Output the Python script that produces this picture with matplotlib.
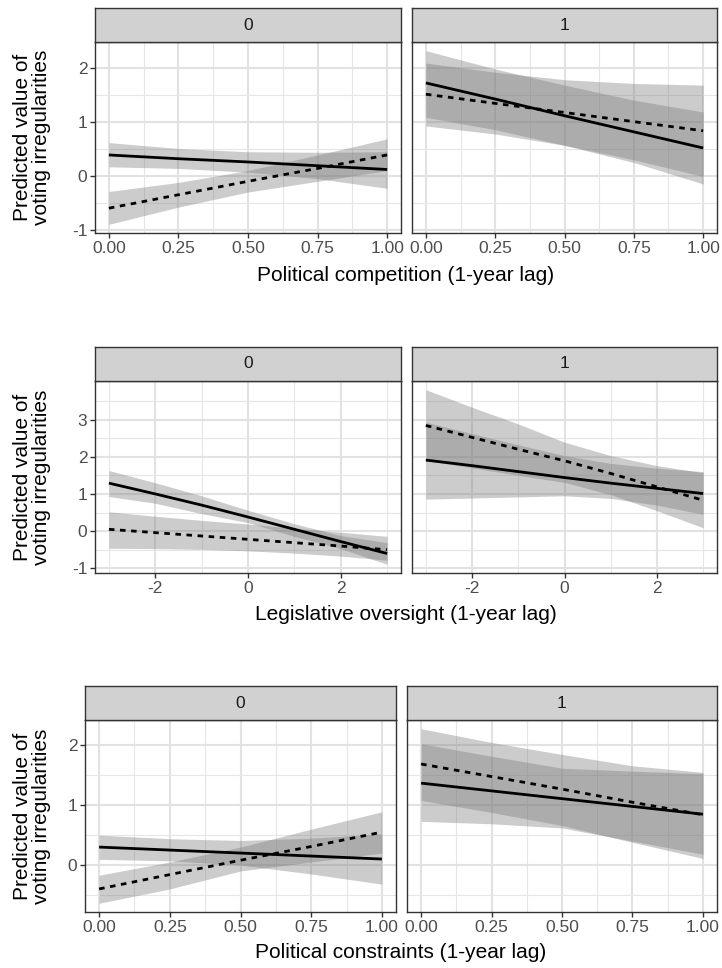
import numpy as np
import matplotlib.pyplot as plt

plt.rcParams['font.family'] = ['Liberation Sans', 'DejaVu Sans']
plt.rcParams['axes.unicode_minus'] = False

W, H = 722, 968

## row 1: political competition
comp_x = [0.0, 0.25, 0.5, 0.75, 1.0]
comp0_solid = [0.39, 0.32, 0.26, 0.19, 0.12]
comp0_solid_hi = [0.62, 0.51, 0.45, 0.44, 0.45]
comp0_solid_lo = [0.17, 0.14, 0.07, -0.05, -0.23]
comp0_dash = [-0.60, -0.35, -0.10, 0.14, 0.39]
comp0_dash_hi = [-0.29, -0.12, 0.10, 0.39, 0.69]
comp0_dash_lo = [-0.90, -0.58, -0.30, -0.10, 0.10]
comp1_solid = [1.73, 1.43, 1.12, 0.82, 0.52]
comp1_solid_hi = [2.33, 1.99, 1.69, 1.41, 1.19]
comp1_solid_lo = [1.09, 0.86, 0.57, 0.25, -0.15]
comp1_dash = [1.52, 1.35, 1.18, 1.01, 0.84]
comp1_dash_hi = [2.10, 1.93, 1.79, 1.72, 1.69]
comp1_dash_lo = [0.93, 0.78, 0.57, 0.30, -0.01]

## row 2: legislative oversight
over_x = [-3, -2, -1, 0, 1, 2, 3]
over0_solid = [1.29, 1.00, 0.70, 0.38, 0.05, -0.28, -0.60]
over0_solid_hi = [1.63, 1.30, 0.95, 0.56, 0.20, -0.12, -0.31]
over0_solid_lo = [0.93, 0.75, 0.47, 0.23, -0.14, -0.47, -0.89]
over0_dash = [0.05, -0.04, -0.13, -0.22, -0.31, -0.40, -0.50]
over0_dash_hi = [0.52, 0.40, 0.29, 0.19, 0.08, -0.03, -0.14]
over0_dash_lo = [-0.46, -0.47, -0.49, -0.53, -0.59, -0.67, -0.78]
over1_solid = [1.91, 1.76, 1.60, 1.44, 1.29, 1.15, 1.01]
over1_solid_hi = [2.93, 2.62, 2.32, 2.03, 1.82, 1.69, 1.60]
over1_solid_lo = [0.86, 0.89, 0.92, 0.95, 0.88, 0.70, 0.45]
over1_dash = [2.84, 2.52, 2.20, 1.89, 1.55, 1.19, 0.83]
over1_dash_hi = [3.80, 3.33, 2.88, 2.39, 2.03, 1.76, 1.57]
over1_dash_lo = [1.90, 1.70, 1.50, 1.31, 0.98, 0.55, 0.09]

## row 3: political constraints
cons_x = [0.0, 0.25, 0.5, 0.75, 1.0]
cons0_solid = [0.30, 0.25, 0.20, 0.15, 0.10]
cons0_solid_hi = [0.50, 0.44, 0.41, 0.45, 0.52]
cons0_solid_lo = [0.095, 0.07, 0.0, -0.15, -0.32]
cons0_dash = [-0.40, -0.16, 0.08, 0.31, 0.55]
cons0_dash_hi = [-0.17, 0.05, 0.30, 0.60, 0.89]
cons0_dash_lo = [-0.64, -0.40, -0.10, 0.05, 0.20]
cons1_solid = [1.37, 1.24, 1.11, 0.98, 0.85]
cons1_solid_hi = [2.03, 1.82, 1.62, 1.57, 1.53]
cons1_solid_lo = [0.73, 0.69, 0.62, 0.40, 0.18]
cons1_dash = [1.69, 1.48, 1.27, 1.05, 0.84]
cons1_dash_hi = [2.28, 2.05, 1.85, 1.66, 1.55]
cons1_dash_lo = [1.08, 0.88, 0.66, 0.38, 0.11]

facets = ['0', '1']
ylab = 'Predicted value of\nvoting irregularities'

rows = [
    dict(x=comp_x, xlabel='Political competition (1-year lag)',
         xticks=[0, 0.25, 0.5, 0.75, 1.0], xticklabels=['0.00', '0.25', '0.50', '0.75', '1.00'],
         yticks=[-1, 0, 1, 2],
         panels=[(comp0_solid, comp0_solid_lo, comp0_solid_hi, comp0_dash, comp0_dash_lo, comp0_dash_hi),
                 (comp1_solid, comp1_solid_lo, comp1_solid_hi, comp1_dash, comp1_dash_lo, comp1_dash_hi)],
         box=(8, 42, 233), cols=[(95, 401), (412, 717)], title_y=275),
    dict(x=over_x, xlabel='Legislative oversight (1-year lag)',
         xticks=[-2, 0, 2], xticklabels=['-2', '0', '2'],
         yticks=[-1, 0, 1, 2, 3],
         panels=[(over0_solid, over0_solid_lo, over0_solid_hi, over0_dash, over0_dash_lo, over0_dash_hi),
                 (over1_solid, over1_solid_lo, over1_solid_hi, over1_dash, over1_dash_lo, over1_dash_hi)],
         box=(347, 381, 573), cols=[(95, 401), (412, 717)], title_y=615),
    dict(x=cons_x, xlabel='Political constraints (1-year lag)',
         xticks=[0, 0.25, 0.5, 0.75, 1.0], xticklabels=['0.00', '0.25', '0.50', '0.75', '1.00'],
         yticks=[0, 1, 2],
         panels=[(cons0_solid, cons0_solid_lo, cons0_solid_hi, cons0_dash, cons0_dash_lo, cons0_dash_hi),
                 (cons1_solid, cons1_solid_lo, cons1_solid_hi, cons1_dash, cons1_dash_lo, cons1_dash_hi)],
         box=(686, 720, 912), cols=[(85, 396), (407, 717)], title_y=953),
]


def rect(x0, y0, x1, y1):
    return [x0 / W, 1 - y1 / H, (x1 - x0) / W, (y1 - y0) / H]


def minors(major, lo, hi):
    step = major[1] - major[0]
    m = np.arange(major[0] - step / 2, major[-1] + step, step)
    return m[(m > lo) & (m < hi)]


fig = plt.figure(figsize=(W / 100, H / 100), dpi=100)
edge = '#333333'
band = '#7a7a7a'

for row in rows:
    x = np.array(row['x'], dtype=float)
    allv = np.concatenate([np.r_[p[1], p[2], p[4], p[5]] for p in row['panels']])
    ypad = 0.05 * (allv.max() - allv.min())
    ylim = (allv.min() - ypad, allv.max() + ypad)
    xpad = 0.05 * (x.max() - x.min())
    xlim = (x.min() - xpad, x.max() + xpad)
    s_top, p_top, p_bot = row['box']

    for k, ((c0, c1), p) in enumerate(zip(row['cols'], row['panels'])):
        sol, sol_lo, sol_hi, dsh, dsh_lo, dsh_hi = p
        ax = fig.add_axes(rect(c0, p_top, c1, p_bot))
        ax.fill_between(x, sol_lo, sol_hi, color=band, alpha=0.38, lw=0)
        ax.fill_between(x, dsh_lo, dsh_hi, color=band, alpha=0.38, lw=0)
        ax.plot(x, sol, color='black', lw=2.0, solid_capstyle='butt')
        ax.plot(x, dsh, color='black', lw=2.0, dashes=(2.0, 2.0))
        ax.set_xlim(xlim)
        ax.set_ylim(ylim)
        ax.set_xticks(row['xticks'])
        ax.set_xticklabels(row['xticklabels'])
        ax.set_yticks(row['yticks'])
        ax.set_xticks(minors(row['xticks'], *xlim), minor=True)
        ax.set_yticks(minors(row['yticks'], *ylim), minor=True)
        ax.grid(which='major', color='#e2e2e2', lw=1.5)
        ax.grid(which='minor', color='#e6e6e6', lw=0.8)
        ax.set_axisbelow(True)
        ax.tick_params(which='major', length=3.5, width=1, color=edge,
                       labelsize=12.5, labelcolor='#4d4d4d', pad=2)
        ax.tick_params(which='minor', length=0)
        if k == 1:
            ax.tick_params(axis='y', left=False, labelleft=False)
        for sp in ax.spines.values():
            sp.set_color(edge)
            sp.set_linewidth(1.0)

        st = fig.add_axes(rect(c0, s_top, c1, p_top))
        st.set_facecolor('#d1d1d1')
        st.set_xticks([])
        st.set_yticks([])
        for sp in st.spines.values():
            sp.set_color(edge)
            sp.set_linewidth(1.0)
        st.text(0.5, 0.5, facets[k], ha='center', va='center',
                fontsize=12.5, color='#1a1a1a', transform=st.transAxes)

    fig.text(32 / W, 1 - (p_top + p_bot) / 2 / H, ylab, rotation=90,
             ha='center', va='center', fontsize=15, linespacing=1.05)
    mid = (row['cols'][0][0] + row['cols'][1][1]) / 2
    fig.text(mid / W, 1 - row['title_y'] / H, row['xlabel'],
             ha='center', va='center', fontsize=15)

fig.savefig('out.png', dpi=100)
